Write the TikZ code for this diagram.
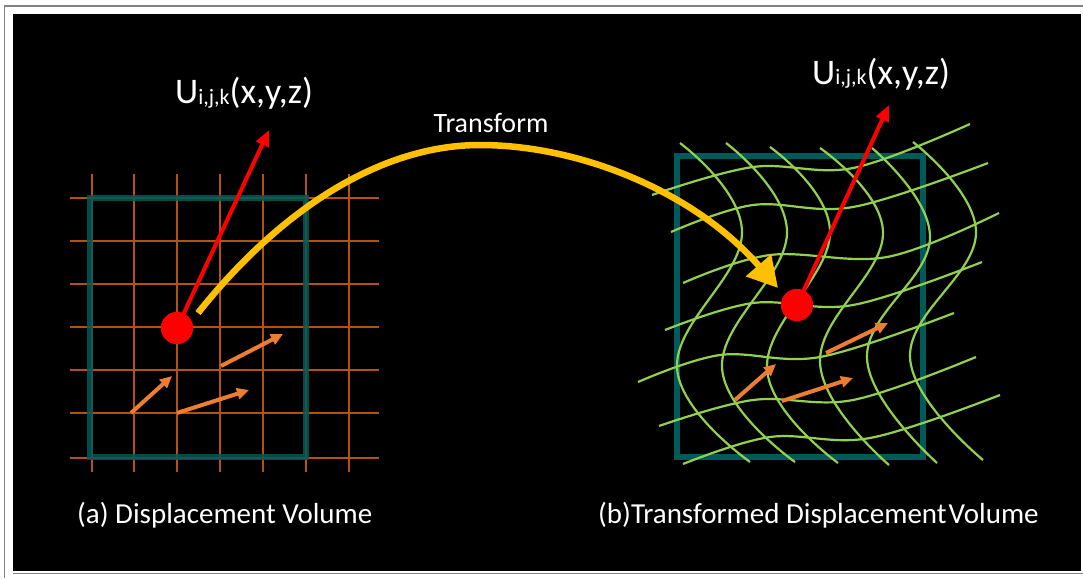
\documentclass[tikz,border=0pt]{standalone}
\usepackage{fontspec}
\setmainfont{Carlito}
\usetikzlibrary{arrows.meta}
\definecolor{boxteal}{RGB}{0,90,90}
\definecolor{gridor}{RGB}{180,82,16}
\definecolor{warpgreen}{RGB}{146,208,80}
\definecolor{vecorange}{RGB}{237,125,49}
\definecolor{arcyellow}{RGB}{255,192,0}
\definecolor{framegray}{RGB}{130,130,130}
\begin{document}
\begin{tikzpicture}[x=1pt,y=-1pt,
  gridline/.style={gridor, line width=1.2pt},
  volbox/.style={boxteal, line width=6pt},
  warp/.style={warpgreen, line width=2.2pt},
  vec/.style={vecorange, line width=4pt, -{Triangle[length=12pt,width=11pt]}},
  uvec/.style={red, line width=4pt, -{Triangle[length=16pt,width=13pt]}},
  tarrow/.style={arcyellow, line width=6.5pt, -{Triangle[length=30pt,width=32pt]}},
  reddot/.style={circle, fill=red, minimum size=32pt, inner sep=0pt},
  lbl/.style={white, font=\fontsize{29}{33}\selectfont, inner sep=0pt},
  tlblstyle/.style={white, font=\fontsize{28}{32}\selectfont, inner sep=0pt},
  ulbl/.style={white, font=\fontsize{36}{40}\selectfont, inner sep=0pt}]
\useasboundingbox (0,0) rectangle (1083,578);
\fill[white] (0,0) rectangle (1083,578);
\draw[framegray, line width=1.2pt] (1083,6) -- (4.5,6) -- (4.5,578);
\draw[framegray, line width=1.5pt] (13,573.5) -- (1083,573.5);
\fill[black] (13,14) rectangle (1081,571);

% ---------- (a) regular grid ----------
\foreach \x in {92,134,177,220,263,306,349} \draw[gridline] (\x,174) -- (\x,472);
\foreach \y in {198,241,284,327,370,413,458} \draw[gridline] (70,\y) -- (379,\y);
\draw[volbox, opacity=0.85] (90,198) rectangle (306,457);

\coordinate (a1s) at (131,413); \coordinate (a1e) at (172,376);
\coordinate (a2s) at (177,413); \coordinate (a2e) at (249,390);
\coordinate (a3s) at (221,366); \coordinate (a3e) at (283,334);
\draw[vec] (a1s) -- (a1e);
\draw[vec] (a2s) -- (a2e);
\draw[vec] (a3s) -- (a3e);

% ---------- (b) warped grid ----------
\draw[volbox] (677,156) rectangle (923,457);
\draw[warp] plot[smooth, tension=0.6] coordinates {(652,195) (753,167) (853,168) (970,124)};
\draw[warp] plot[smooth, tension=0.6] coordinates {(671,232) (753,205) (853,207) (988,163)};
\draw[warp] plot[smooth, tension=0.6] coordinates {(683,283) (770,255) (887,257) (999,213)};
\draw[warp] plot[smooth, tension=0.6] coordinates {(665,330) (753,303) (853,305) (982,262)};
\draw[warp] plot[smooth, tension=0.6] coordinates {(638,382) (720,355) (820,357) (954,313)};
\draw[warp] plot[smooth, tension=0.6] coordinates {(659,426) (753,400) (853,400) (976,357)};
\draw[warp] plot[smooth, tension=0.6] coordinates {(683,464) (770,437) (870,438) (1000,395)};
\draw[warp] plot[smooth, tension=0.7] coordinates {(680,143) (742,233) (677,367) (750,462)};
\draw[warp] plot[smooth, tension=0.7] coordinates {(726,143) (787,233) (722,367) (795,462)};
\draw[warp] plot[smooth, tension=0.7] coordinates {(770,147) (830,233) (767,368) (838,463)};
\draw[warp] plot[smooth, tension=0.7] coordinates {(820,148) (883,233) (820,362) (889,465)};
\draw[warp] plot[smooth, tension=0.7] coordinates {(872,148) (930,238) (867,358) (937,463)};
\draw[warp] plot[smooth, tension=0.7] coordinates {(913,142) (976,233) (910,357) (983,460)};

\coordinate (b1s) at (735,400); \coordinate (b1e) at (776,364);
\coordinate (b2s) at (782,401); \coordinate (b2e) at (853,378);
\coordinate (b3s) at (826,353); \coordinate (b3e) at (888,323);
\draw[vec] (b1s) -- (b1e);
\draw[vec] (b2s) -- (b2e);
\draw[vec] (b3s) -- (b3e);

% ---------- displacement vectors and transform arrow ----------
\node[reddot] (d1) at (177,328) {};
\node[reddot] (d2) at (797,305) {};
\coordinate (u1tip) at (269,130);
\coordinate (u2tip) at (889,105);
\draw[uvec] (d1.center) -- (u1tip);
\draw[uvec] (d2.center) -- (u2tip);
\node[reddot] at (d1) {};
\node[reddot] at (d2) {};

\coordinate (ts) at (198,313);
\coordinate (te) at (778,288);
\draw[tarrow] (ts) .. controls (280,210) and (380,145) .. (480,145)
  .. controls (580,145) and (695,192) .. (te);

% ---------- labels ----------
\node[tlblstyle, anchor=base] (tlbl) at (491,132) {Transform};
\node[ulbl, anchor=base west] (ulbl1) at (175,103)
  {U\raisebox{-1pt}{\fontsize{22}{25}\selectfont i,j,k}(x,y,z)};
\node[ulbl, anchor=base west] (ulbl2) at (812,84)
  {U\raisebox{-1pt}{\fontsize{22}{25}\selectfont i,j,k}(x,y,z)};
\node[lbl, anchor=base west] (cap1) at (77,523) {(a) Displacement Volume};
\node[lbl, anchor=base west] (cap2) at (598,523) {(b)Transformed Displacement\kern2pt Volume};
\end{tikzpicture}
\end{document}
